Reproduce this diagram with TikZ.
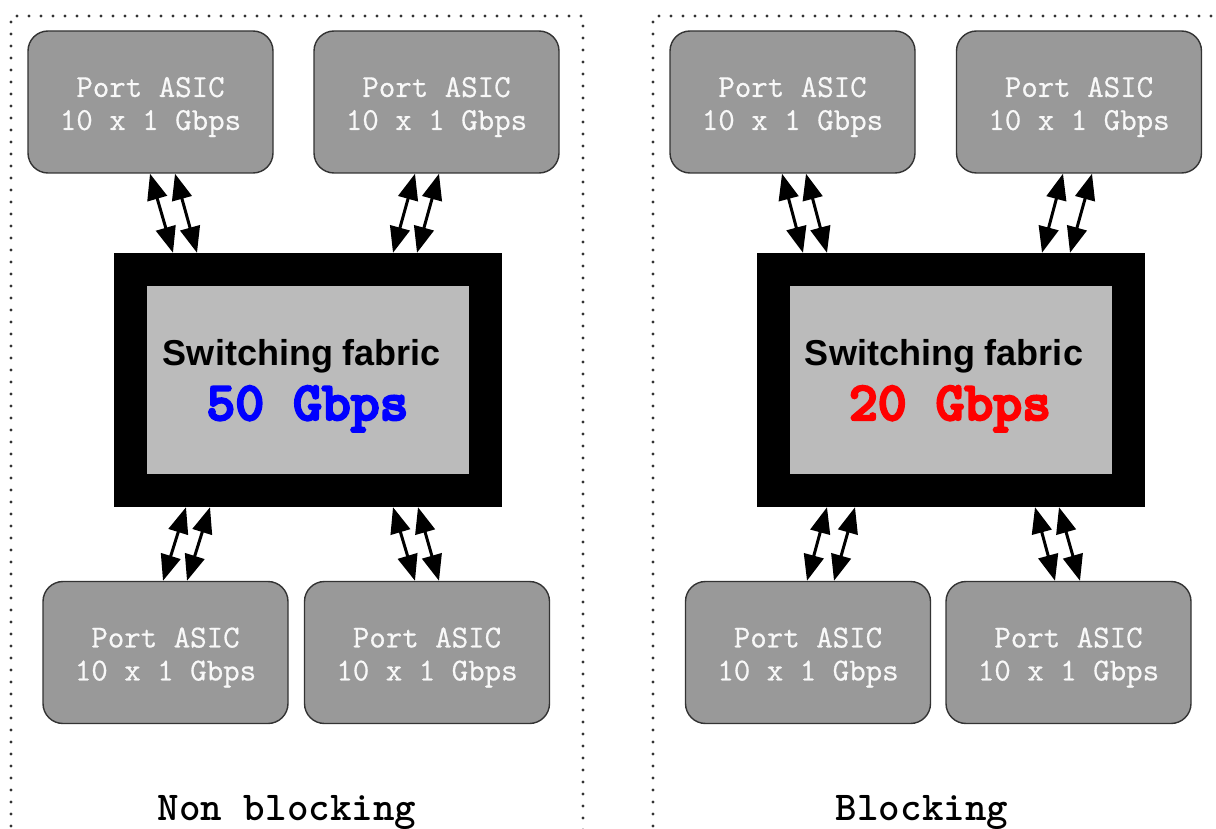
\documentclass[tikz,border=0pt]{standalone}
\usepackage{fontspec}
\usetikzlibrary{arrows.meta}
\newfontfamily\arialf{Liberation Sans}
\newfontfamily\portfont[FakeBold=0.6]{Latin Modern Mono}
\definecolor{portgray}{HTML}{999999}
\definecolor{portedge}{HTML}{333333}
\definecolor{fabgray}{HTML}{BBBBBB}
\definecolor{porttext}{HTML}{F8F8F8}
\newcommand\porttxt{\rule{0pt}{30pt}Port ASIC\\10 x 1 Gbps}
\newcommand\heavytext[1]{\special{pdf:literal direct 2 Tr 2.2 w}#1\special{pdf:literal direct 0 Tr 1 w}}
\begin{document}
\begin{tikzpicture}[x=1pt,y=-1pt,
  port/.style={draw=portedge, line width=1.4pt, fill=portgray, rounded corners=20pt,
    minimum width=245pt, minimum height=142pt, inner sep=0pt, align=center,
    text=porttext, font=\portfont\fontsize{32}{33}\selectfont},
  fabout/.style={fill=black, draw=none, minimum width=388pt, minimum height=254pt, inner sep=0pt},
  fabin/.style={fill=fabgray, draw=none, minimum width=322pt, minimum height=187pt, inner sep=0pt},
  fabtitle/.style={anchor=base, inner sep=0pt, font=\arialf\bfseries\fontsize{36}{36}\selectfont},
  fabrate/.style={anchor=base, inner sep=0pt, font=\ttfamily\bfseries\fontsize{55}{55}\selectfont},
  caption/.style={anchor=base, inner sep=0pt, font=\ttfamily\bfseries\fontsize{41}{41}\selectfont},
  frame/.style={line width=3.2pt, dash pattern=on 0pt off 12pt, line cap=round, black!80},
  link/.style={line width=3pt, {Triangle[length=26pt,width=20pt]}-{Triangle[length=26pt,width=20pt]}}
]
\useasboundingbox (0,0) rectangle (1216,829);
\clip (0,0) rectangle (1216,829);
% frames
\draw[frame] (11,850) -- (11,16) -- (583,16) -- (583,850);
\draw[frame] (653,850) -- (653,16) -- (1240,16);

% ---------- left panel ----------
\node[port] (ltl) at (150.5,102) {\porttxt};
\node[port] (ltr) at (436.5,102) {\porttxt};
\node[port] (lbl) at (165.5,652.5) {\porttxt};
\node[port] (lbr) at (427,652.5) {\porttxt};
\node[fabout] (lfab) at (308,380) {};
\node[fabin] (lfabin) at (lfab.center) {};
\node[fabtitle] (ltitle) at (302,365) {Switching fabric};
\node[fabrate, text={rgb,255:red,0;green,0;blue,255}] (lrate) at (307.5,420) {\heavytext{50 Gbps}};
\node[caption] (lcap) at (287,820) {Non blocking};

\draw[link] (ltl.south -| 150,0) -- (lfab.north -| 173,0);
\draw[link] (ltl.south -| 175,0) -- (lfab.north -| 197,0);
\draw[link] (ltr.south -| 415,0) -- (lfab.north -| 393,0);
\draw[link] (ltr.south -| 439,0) -- (lfab.north -| 417,0);
\draw[link] (lfab.south -| 186,0) -- (lbl.north -| 163,0);
\draw[link] (lfab.south -| 210,0) -- (lbl.north -| 187,0);
\draw[link] (lfab.south -| 393,0) -- (lbr.north -| 415,0);
\draw[link] (lfab.south -| 418,0) -- (lbr.north -| 439,0);

% ---------- right panel ----------
\node[port] (rtl) at (792.5,102) {\porttxt};
\node[port] (rtr) at (1079,102) {\porttxt};
\node[port] (rbl) at (808,652.5) {\porttxt};
\node[port] (rbr) at (1068.5,652.5) {\porttxt};
\node[fabout] (rfab) at (950.5,380) {};
\node[fabin] (rfabin) at (rfab.center) {};
\node[fabtitle] (rtitle) at (944,365) {Switching fabric};
\node[fabrate, text={rgb,255:red,255;green,0;blue,0}] (rrate) at (950,420) {\heavytext{20 Gbps}};
\node[caption] (rcap) at (922,820) {Blocking};

\draw[link] (rtl.south -| 782,0) -- (rfab.north -| 803,0);
\draw[link] (rtl.south -| 806,0) -- (rfab.north -| 827,0);
\draw[link] (rtr.south -| 1063,0) -- (rfab.north -| 1042,0);
\draw[link] (rtr.south -| 1092,0) -- (rfab.north -| 1070,0);
\draw[link] (rfab.south -| 827,0) -- (rbl.north -| 807,0);
\draw[link] (rfab.south -| 855,0) -- (rbl.north -| 834,0);
\draw[link] (rfab.south -| 1035,0) -- (rbr.north -| 1055,0);
\draw[link] (rfab.south -| 1059,0) -- (rbr.north -| 1080,0);
\end{tikzpicture}
\end{document}
